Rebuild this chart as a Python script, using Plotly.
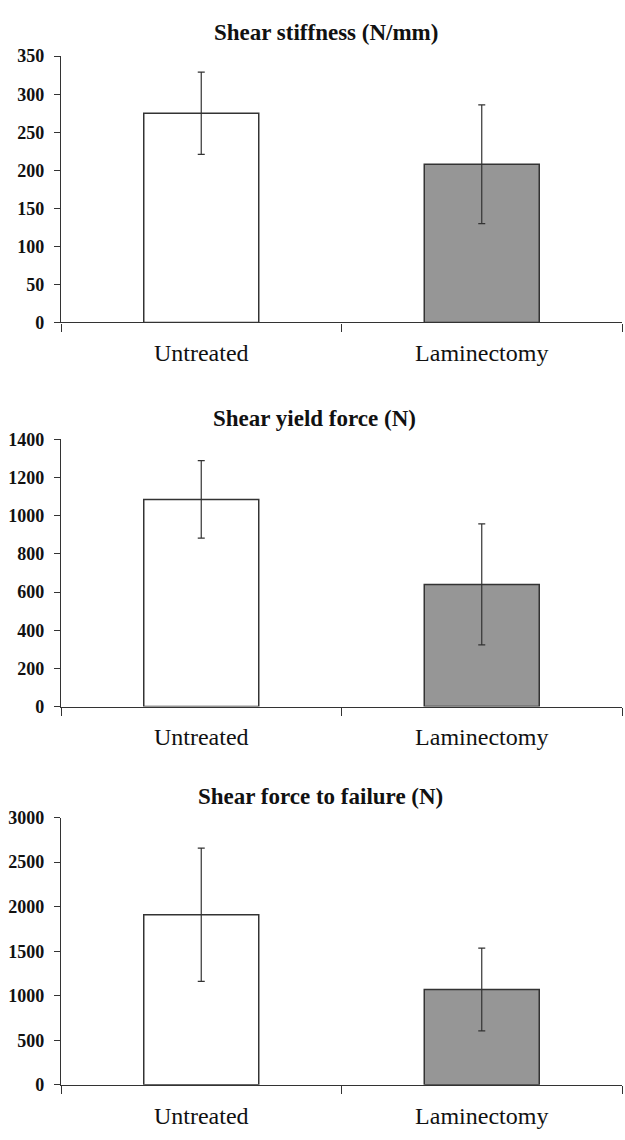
import plotly.graph_objects as go

categories = ["Untreated", "Laminectomy"]

titles = ["Shear stiffness (N/mm)", "Shear yield force (N)", "Shear force to failure (N)"]

stiffness_mean = [275, 208]
stiffness_err = [54, 78]

yield_mean = [1085, 640]
yield_err = [203, 317]

failure_mean = [1910, 1070]
failure_err = [748, 465]

y_max = [350, 1400, 3000]
y_step = [50, 200, 500]

means = [stiffness_mean, yield_mean, failure_mean]
errs = [stiffness_err, yield_err, failure_err]

W, H = 625, 1140
# pixel layout of each panel: (top, bottom)
panels = [(47, 318), (437, 709), (822, 1094)]
title_y = [23, 416, 801]
title_x = [326, 314, 320]
x_left, x_right = 61, 622

bar_colors = ["#ffffff", "#969696"]
line_col = "#333333"
serif = "Liberation Serif, Times New Roman, serif"

fig = go.Figure()
layout = dict(
    width=W, height=H, margin=dict(l=0, r=0, t=0, b=0),
    paper_bgcolor="white", plot_bgcolor="white", showlegend=False,
)
annotations = []
for i in range(3):
    sx = "" if i == 0 else str(i + 1)
    fig.add_trace(go.Bar(
        x=categories, y=means[i],
        xaxis="x" + sx, yaxis="y" + sx,
        marker=dict(color=bar_colors, line=dict(color=line_col, width=1.5)),
        error_y=dict(type="data", array=errs[i], visible=True,
                     color=line_col, thickness=1.2, width=3.5),
        width=0.41,
    ))
    top, bot = panels[i]
    layout["xaxis" + sx] = dict(
        domain=[x_left / W, x_right / W],
        anchor="y" + sx,
        range=[-0.5, 1.5],
        showline=True, linecolor=line_col, linewidth=1.2,
        ticks="outside", ticklen=8, tickcolor=line_col, tickwidth=1.2,
        tickson="boundaries",
        tickfont=dict(family=serif, size=24, color="#111111"),
        ticklabelstandoff=9,
        showgrid=False, zeroline=False, fixedrange=True,
    )
    layout["yaxis" + sx] = dict(
        domain=[1 - bot / H, 1 - top / H],
        anchor="x" + sx,
        range=[0, y_max[i]],
        dtick=y_step[i], tick0=0,
        showline=True, linecolor=line_col, linewidth=1.2,
        ticks="outside", ticklen=6, tickcolor=line_col, tickwidth=1.2,
        tickfont=dict(family=serif, size=18, color="#111111", weight="bold"),
        ticklabelstandoff=6,
        showgrid=False, zeroline=False, fixedrange=True,
    )
    annotations.append(dict(
        text="<b>" + titles[i] + "</b>", x=title_x[i] / W, y=1 - title_y[i] / H,
        xref="paper", yref="paper", xanchor="center", yanchor="middle",
        showarrow=False, font=dict(family=serif, size=23, color="#111111"),
    ))
layout["annotations"] = annotations
fig.update_layout(**layout)

post = (
    "document.documentElement.style.margin='0';"
    "document.documentElement.style.padding='0';"
    "document.documentElement.style.overflow='hidden';"
    "document.body.style.margin='0';"
    "document.body.style.padding='0';"
    "document.body.style.overflow='hidden';"
)
fig.write_html("out.html", config={"displayModeBar": False}, post_script=post)
